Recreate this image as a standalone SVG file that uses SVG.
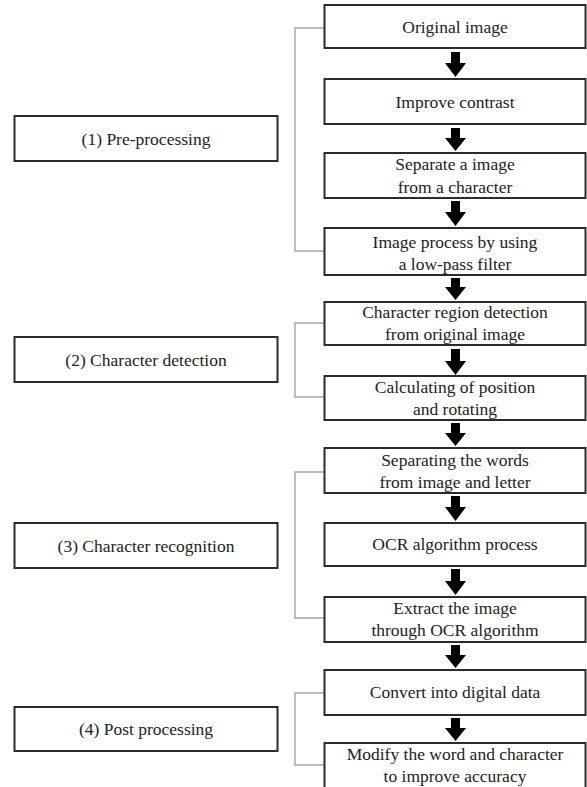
<svg xmlns="http://www.w3.org/2000/svg" width="587" height="787" viewBox="0 0 587 787">
<style>
.box{fill:#fff;stroke:#2b2b2b;stroke-width:2}
.t{font-size:17.5px;fill:#222;text-anchor:middle}
.br{fill:none;stroke:#a6a6a6;stroke-width:1.4}
.ar{fill:#000}
</style>
<rect width="587" height="787" fill="#fff"/>
<g id="connectors">
<path class="br" d="M324,28H295V251H324"/>
<path class="br" d="M324,323H295V397H324"/>
<path class="br" d="M324,472H295V618H324"/>
<path class="br" d="M324,693H295V765H324"/>
<path class="ar" d="M451,52h9v11h6l-10.5,14l-10.5,-14h6z"/>
<path class="ar" d="M451,128h9v10h6l-10.5,13l-10.5,-13h6z"/>
<path class="ar" d="M451,201h9v11h6l-10.5,14l-10.5,-14h6z"/>
<path class="ar" d="M451,278h9v9h6l-10.5,13l-10.5,-13h6z"/>
<path class="ar" d="M451,349h9v12h6l-10.5,14l-10.5,-14h6z"/>
<path class="ar" d="M451,423h9v10h6l-10.5,13l-10.5,-13h6z"/>
<path class="ar" d="M451,496h9v11h6l-10.5,14l-10.5,-14h6z"/>
<path class="ar" d="M451,569h9v12h6l-10.5,14l-10.5,-14h6z"/>
<path class="ar" d="M451,645h9v10h6l-10.5,13l-10.5,-13h6z"/>
<path class="ar" d="M451,718h9v10h6l-10.5,13l-10.5,-13h6z"/>
</g>
<g font-family="Liberation Serif, Times New Roman, serif">
<g id="stage1"><rect class="box" x="14.5" y="116" width="263" height="45"/><text class="t" x="146" y="145">(1) Pre-processing</text></g>
<g id="stage2"><rect class="box" x="14.5" y="337" width="263" height="45"/><text class="t" x="146" y="366">(2) Character detection</text></g>
<g id="stage3"><rect class="box" x="14.5" y="523" width="263" height="45"/><text class="t" x="146" y="552">(3) Character recognition</text></g>
<g id="stage4"><rect class="box" x="14.5" y="707" width="263" height="44"/><text class="t" x="146" y="735">(4) Post processing</text></g>
<g id="s1"><rect class="box" x="324.5" y="5" width="261" height="43"/><text class="t" x="455" y="33">Original image</text></g>
<g id="s2"><rect class="box" x="324.5" y="79" width="261" height="45"/><text class="t" x="455" y="107.5">Improve contrast</text></g>
<g id="s3"><rect class="box" x="324.5" y="153" width="261" height="45"/><text class="t" x="455" y="170">Separate a image</text><text class="t" x="455" y="193">from a character</text></g>
<g id="s4"><rect class="box" x="324.5" y="228" width="261" height="47"/><text class="t" x="455" y="248">Image process by using</text><text class="t" x="455" y="270">a low-pass filter</text></g>
<g id="s5"><rect class="box" x="324.5" y="302" width="261" height="43"/><text class="t" x="455" y="318">Character region detection</text><text class="t" x="455" y="340">from original image</text></g>
<g id="s6"><rect class="box" x="324.5" y="376" width="261" height="44"/><text class="t" x="455" y="393">Calculating of position</text><text class="t" x="455" y="415">and rotating</text></g>
<g id="s7"><rect class="box" x="324.5" y="448" width="261" height="45"/><text class="t" x="455" y="466">Separating the words</text><text class="t" x="455" y="488">from image and letter</text></g>
<g id="s8"><rect class="box" x="324.5" y="523" width="261" height="43"/><text class="t" x="455" y="550">OCR algorithm process</text></g>
<g id="s9"><rect class="box" x="324.5" y="597" width="261" height="45"/><text class="t" x="455" y="614">Extract the image</text><text class="t" x="455" y="636">through OCR algorithm</text></g>
<g id="s10"><rect class="box" x="324.5" y="670" width="261" height="45"/><text class="t" x="455" y="698">Convert into digital data</text></g>
<g id="s11"><rect class="box" x="324.5" y="743" width="261" height="60"/><text class="t" x="455" y="760">Modify the word and character</text><text class="t" x="455" y="782">to improve accuracy</text></g>
</g>
</svg>
